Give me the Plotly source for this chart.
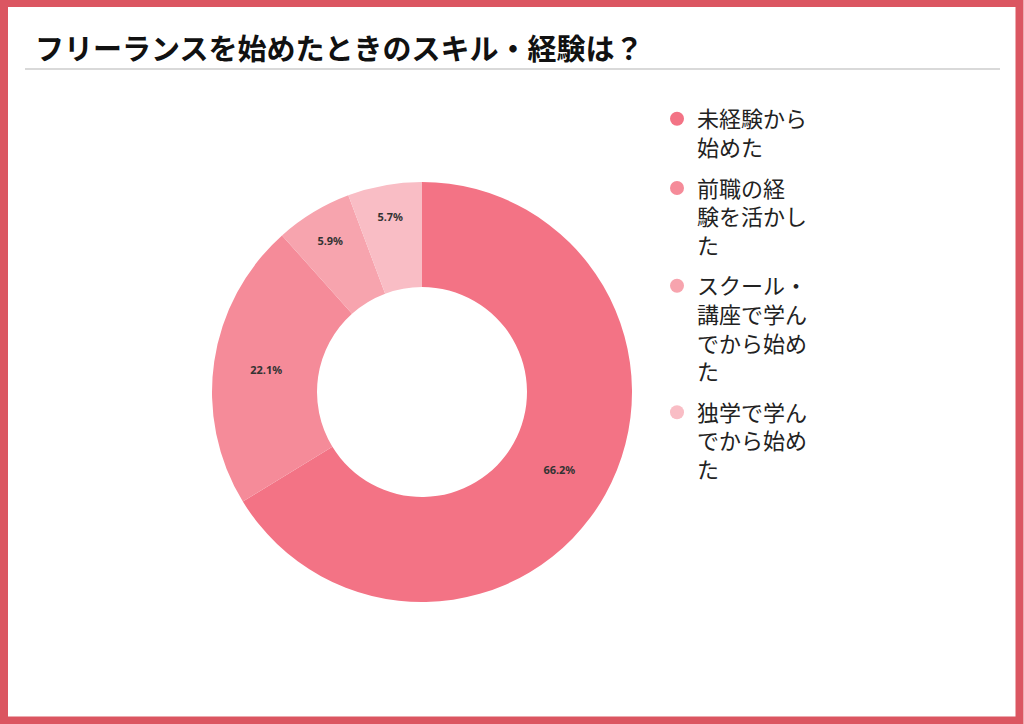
import plotly.graph_objects as go

#  Chart data
title = 'フリーランスを始めたときのスキル・経験は？'
labels = ['未経験から<br>始めた',
          '前職の経<br>験を活かし<br>た',
          'スクール・<br>講座で学ん<br>でから始め<br>た',
          '独学で学ん<br>でから始め<br>た']
shares = [66.2, 22.1, 5.9, 5.7]
colors = ['#f37385', '#f58b99', '#f7a4ae', '#f9bdc5']

W, H = 1024, 724
FONT = 'Noto Sans CJK JP'


def px_x(x):
    return x / W


def px_y(y):
    return 1 - y / H


fig = go.Figure()

fig.add_trace(go.Pie(
    values=shares,
    labels=labels,
    marker=dict(colors=colors, line=dict(width=0)),
    hole=0.5,
    sort=False,
    direction='clockwise',
    rotation=0,
    texttemplate='<b>%{value:.1f}%</b>',
    textposition='inside',
    insidetextorientation='horizontal',
    textfont=dict(size=11, color='#333333', family='Noto Sans'),
    domain=dict(x=[px_x(212), px_x(632)], y=[px_y(602), px_y(182)]),
    showlegend=False,
    hoverinfo='label+percent',
))

#  Legend with round markers
for i, (lab, col) in enumerate(zip(labels, colors)):
    fig.add_trace(go.Scatter(
        x=[None], y=[None], mode='markers', name=lab, legendgroup=f'g{i}',
        marker=dict(color=col, size=14, symbol='circle'),
    ))

fig.add_annotation(
    text='<b>' + title + '</b>', xref='paper', yref='paper',
    x=px_x(33), y=px_y(47), xanchor='left', yanchor='middle',
    showarrow=False, font=dict(size=29, color='#111111', family=FONT),
)

fig.update_layout(
    width=W, height=H,
    margin=dict(l=0, r=0, t=0, b=0),
    paper_bgcolor='white',
    plot_bgcolor='white',
    font=dict(family=FONT),
    xaxis=dict(visible=False, range=[0, 1]),
    yaxis=dict(visible=False, range=[0, 1]),
    legend=dict(
        x=px_x(657), y=px_y(98), xanchor='left', yanchor='top',
        font=dict(size=22, color='#222222', family=FONT),
        itemwidth=30, tracegroupgap=9, valign='top',
        bgcolor='rgba(0,0,0,0)',
    ),
    shapes=[
        dict(type='line', xref='paper', yref='paper',
             x0=px_x(25), x1=px_x(1000), y0=px_y(69), y1=px_y(69),
             line=dict(color='#cccccc', width=1.5)),
        dict(type='rect', xref='paper', yref='paper',
             x0=px_x(4), x1=px_x(1019.5), y0=px_y(720.5), y1=px_y(3),
             line=dict(color='#db5661', width=8)),
    ],
)

fig.write_html('out.html',
               config=dict(displayModeBar=False),
               post_script="document.body.style.margin='0';"
                           "document.body.style.overflow='hidden';")
